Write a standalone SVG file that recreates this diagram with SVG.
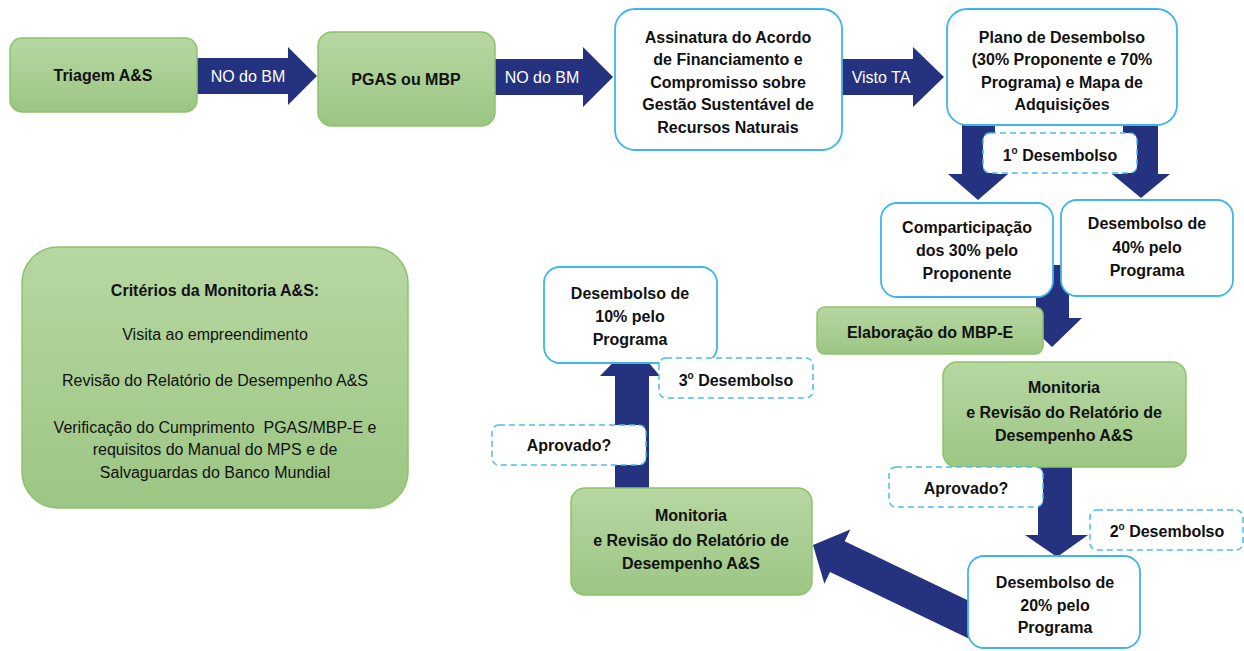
<svg xmlns="http://www.w3.org/2000/svg" width="1244" height="651" viewBox="0 0 1244 651">
<defs>
<linearGradient id="gg" x1="0" y1="0" x2="0" y2="1">
<stop offset="0" stop-color="#b7d7a2"/>
<stop offset="1" stop-color="#9cc683"/>
</linearGradient>
<style>
.green{fill:url(#gg);stroke:#8fc26c;stroke-width:1.5}
.blue{fill:#fff;stroke:#3fb6ea;stroke-width:1.8}
.lbl{fill:#fff;stroke:#4dbbec;stroke-width:1.5;stroke-dasharray:6 4}
.arr{fill:#24327f}
text{font-family:"Liberation Sans",Arial,sans-serif;font-size:16px;text-anchor:middle;fill:#111}
.b{font-weight:700}
.w{fill:#fff}
.pre{white-space:pre}
</style>
</defs>
<rect width="1244" height="651" fill="#fff"/>

<g id="connectors">
<polygon class="arr" points="196,58 288,58 288,47 317,76 288,105 288,94 196,94"/>
<polygon class="arr" points="494,59 583,59 583,47 613,77 583,107 583,95 494,95"/>
<polygon class="arr" points="836,59 913,59 913,47 944,77 913,107 913,95 836,95"/>
<polygon class="arr" points="962,120 995,120 995,174 1008,174 978,200 948,174 962,174"/>
<polygon class="arr" points="1123,118 1158,118 1158,174 1170,174 1141,198 1112,174 1123,174"/>
<polygon class="arr" points="1036,265 1069,265 1069,318 1082,318 1052,347 1022,318 1036,318"/>
<polygon class="arr" points="1038,460 1072,460 1072,535 1088,535 1057,557 1025,535 1038,535"/>
<polygon class="arr" transform="translate(813,545) rotate(205.6)" points="0,0 -27,-30 -27,-17 -205,-17 -205,17 -27,17 -27,30"/>
<polygon class="arr" points="615,495 649,495 649,376 660,376 632,343 600,376 615,376"/>
<text class="w" x="248" y="82">NO do BM</text>
<text class="w" x="542" y="83">NO do BM</text>
<text class="w" x="881" y="83">Visto TA</text>
</g>

<g id="triagem">
<rect class="green" x="10" y="38" width="187" height="74" rx="12"/>
<text class="b" x="103" y="81">Triagem A&amp;S</text>
</g>
<g id="pgas">
<rect class="green" x="318" y="32" width="177" height="94" rx="14"/>
<text class="b" x="406" y="85">PGAS ou MBP</text>
</g>
<g id="assinatura">
<rect class="blue" x="615" y="9" width="227" height="141" rx="20"/>
<text class="b" x="728" y="43">Assinatura do Acordo</text>
<text class="b" x="728" y="65">de Financiamento e</text>
<text class="b" x="728" y="88">Compromisso sobre</text>
<text class="b" x="728" y="110">Gestão Sustentável de</text>
<text class="b" x="728" y="133">Recursos Naturais</text>
</g>
<g id="plano">
<rect class="blue" x="947" y="9" width="230" height="116" rx="20"/>
<text class="b" x="1062" y="43">Plano de Desembolso</text>
<text class="b" x="1062" y="65">(30% Proponente e 70%</text>
<text class="b" x="1062" y="88">Programa) e Mapa de</text>
<text class="b" x="1062" y="110">Adquisições</text>
</g>
<g id="comparticipacao">
<rect class="blue" x="881" y="203" width="172" height="94" rx="16"/>
<text class="b" x="967" y="233">Comparticipação</text>
<text class="b" x="967" y="256">dos 30% pelo</text>
<text class="b" x="967" y="279">Proponente</text>
</g>
<g id="desembolso40">
<rect class="blue" x="1061" y="200" width="172" height="96" rx="16"/>
<text class="b" x="1147" y="229">Desembolso de</text>
<text class="b" x="1147" y="253">40% pelo</text>
<text class="b" x="1147" y="276">Programa</text>
</g>
<g id="elaboracao">
<rect class="green" x="817" y="307" width="226" height="47" rx="8"/>
<text class="b" x="930" y="338">Elaboração do MBP-E</text>
</g>
<g id="monitoria-direita">
<rect class="green" x="943" y="362" width="243" height="105" rx="14"/>
<text class="b" x="1064" y="393">Monitoria</text>
<text class="b" x="1064" y="418">e Revisão do Relatório de</text>
<text class="b" x="1064" y="441">Desempenho A&amp;S</text>
</g>
<g id="desembolso20">
<rect class="blue" x="968" y="556" width="172" height="92" rx="16"/>
<text class="b" x="1055" y="588">Desembolso de</text>
<text class="b" x="1055" y="611">20% pelo</text>
<text class="b" x="1055" y="633">Programa</text>
</g>
<g id="monitoria-esquerda">
<rect class="green" x="571" y="488" width="241" height="107" rx="14"/>
<text class="b" x="691" y="521">Monitoria</text>
<text class="b" x="691" y="546">e Revisão do Relatório de</text>
<text class="b" x="691" y="569">Desempenho A&amp;S</text>
</g>
<g id="desembolso10">
<rect class="blue" x="544" y="267" width="173" height="96" rx="16"/>
<text class="b" x="630" y="299">Desembolso de</text>
<text class="b" x="630" y="322">10% pelo</text>
<text class="b" x="630" y="345">Programa</text>
</g>
<g id="criterios">
<rect class="green" x="22" y="247" width="386" height="261" rx="36"/>
<text class="b" x="215" y="296">Critérios da Monitoria A&amp;S:</text>
<text x="215" y="340">Visita ao empreendimento</text>
<text x="215" y="386">Revisão do Relatório de Desempenho A&amp;S</text>
<text class="pre" x="215" y="433">Verificação do Cumprimento  PGAS/MBP-E e</text>
<text x="215" y="455">requisitos do Manual do MPS e de</text>
<text x="215" y="478">Salvaguardas do Banco Mundial</text>
</g>

<g id="label-1-desembolso">
<rect class="lbl" x="983" y="133" width="154" height="40" rx="7"/>
<text class="b" x="1060" y="161">1<tspan font-size="10" dy="-7">o</tspan><tspan dy="7"> Desembolso</tspan></text>
</g>
<g id="label-aprovado-direita">
<rect class="lbl" x="889" y="467" width="154" height="40" rx="7"/>
<text class="b" x="966" y="494">Aprovado?</text>
</g>
<g id="label-2-desembolso">
<rect class="lbl" x="1090" y="510" width="153" height="40" rx="7"/>
<text class="b" x="1167" y="537">2<tspan font-size="10" dy="-7">o</tspan><tspan dy="7"> Desembolso</tspan></text>
</g>
<g id="label-3-desembolso">
<rect class="lbl" x="659" y="358" width="154" height="40" rx="7"/>
<text class="b" x="736" y="386">3<tspan font-size="10" dy="-7">o</tspan><tspan dy="7"> Desembolso</tspan></text>
</g>
<g id="label-aprovado-esquerda">
<rect class="lbl" x="492" y="425" width="154" height="40" rx="7"/>
<text class="b" x="569" y="451">Aprovado?</text>
</g>
</svg>
